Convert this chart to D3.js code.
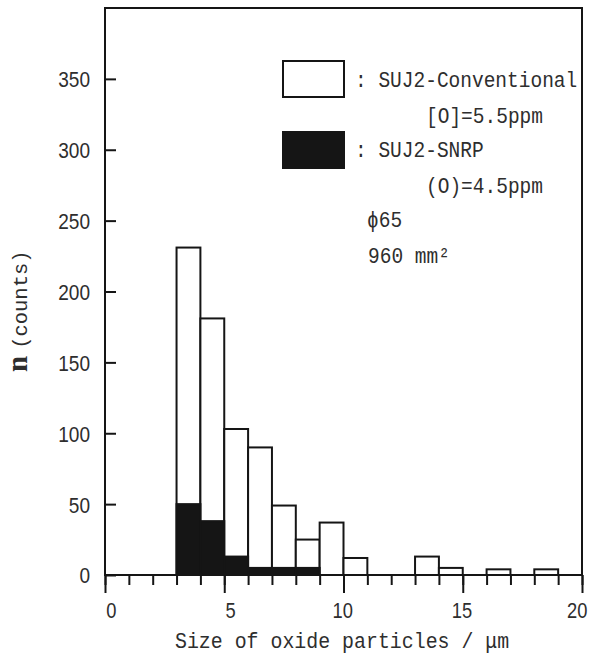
<!DOCTYPE html>
<html>
<head>
<meta charset="utf-8">
<script src="https://cdn.jsdelivr.net/npm/d3@7"></script>
<style>
  body { margin: 0; background: #fff; }
  svg { display: block; }
</style>
</head>
<body>
<script>
// ---- Data ----
const binStarts = [3, 4, 5, 6, 7, 8, 9, 10, 13, 14, 16, 18];
const conventional = [231, 181, 103, 90, 49, 25, 37, 12, 13, 5, 4, 4];
const snrp = [50, 38, 13, 5, 5, 5, 0, 0, 0, 0, 0, 0];
const binWidth = 1;
const xMajorTicks = [0, 5, 10, 15, 20];
const xMinorTicks = d3.range(0, 21, 1);
const yTicks = [0, 50, 100, 150, 200, 250, 300, 350];
const legendLines = [
  { text: ": SUJ2-Conventional", x: 355, y: 87 },
  { text: "[O]=5.5ppm", x: 426, y: 123 },
  { text: ": SUJ2-SNRP", x: 355, y: 157 },
  { text: "(O)=4.5ppm", x: 426, y: 193 },
  { text: "\u03d565", x: 367, y: 227 },
  { text: "960 mm\u00b2", x: 368, y: 263 }
];
const xTitle = "Size of oxide particles / \u03bcm";

// ---- Layout ----
const W = 593, H = 659;
const mLeft = 105, mRight = 582, mTop = 8, mBottom = 575;
const ink = "#151515", textInk = "#2e2e2e";
const monoFont = "'Liberation Mono', 'DejaVu Sans Mono', monospace";
const numFont = "'Liberation Sans', 'Arial', sans-serif";

const svg = d3.select("body").append("svg").attr("width", W).attr("height", H);

const x = d3.scaleLinear().domain([0, 20]).range([mLeft, mRight]);
const y = d3.scaleLinear().domain([0, 400]).range([mBottom, mTop]);

const bins = binStarts.map((s, i) => ({ s, conv: conventional[i], snrp: snrp[i] }));

// conventional bars (open)
svg.append("g").selectAll("rect").data(bins).join("rect")
  .attr("x", d => x(d.s))
  .attr("width", d => x(d.s + binWidth) - x(d.s))
  .attr("y", d => y(d.conv))
  .attr("height", d => y(0) - y(d.conv))
  .attr("fill", "#fff").attr("stroke", ink).attr("stroke-width", 2);

// SNRP bars (filled)
svg.append("g").selectAll("rect").data(bins.filter(d => d.snrp > 0)).join("rect")
  .attr("x", d => x(d.s))
  .attr("width", d => x(d.s + binWidth) - x(d.s))
  .attr("y", d => y(d.snrp))
  .attr("height", d => y(0) - y(d.snrp))
  .attr("fill", ink).attr("stroke", ink).attr("stroke-width", 2);

// frame
svg.append("rect").attr("x", mLeft).attr("y", mTop)
  .attr("width", mRight - mLeft).attr("height", mBottom - mTop)
  .attr("fill", "none").attr("stroke", ink).attr("stroke-width", 2);

// x minor ticks
const gxMinor = svg.append("g").attr("transform", `translate(0,${mBottom})`)
  .call(d3.axisBottom(x).tickValues(xMinorTicks).tickSize(10).tickFormat(""));
gxMinor.select(".domain").remove();
gxMinor.selectAll("line").attr("stroke", ink).attr("stroke-width", 2);

// x major ticks with labels
const gxMajor = svg.append("g").attr("transform", `translate(0,${mBottom})`)
  .call(d3.axisBottom(x).tickValues(xMajorTicks).tickSize(18).tickPadding(0).tickFormat(d3.format("d")));
gxMajor.select(".domain").remove();
gxMajor.selectAll("line").attr("stroke", ink).attr("stroke-width", 2);
gxMajor.selectAll("text")
  .attr("y", 43).attr("dy", 0)
  .attr("text-anchor", "end").attr("dx", (d, i, n) => i === n.length - 1 ? 5 : (d >= 10 ? 9 : 11))
  .attr("textLength", d => String(d).length * 10.2)
  .attr("lengthAdjust", "spacingAndGlyphs")
  .attr("fill", textInk)
  .style("font-family", numFont)
  .style("font-size", "22px");

// y ticks (inward) with labels
const gy = svg.append("g").attr("transform", `translate(${mLeft},0)`)
  .call(d3.axisLeft(y).tickValues(yTicks).tickSizeInner(-11).tickSizeOuter(0).tickPadding(15));
gy.select(".domain").remove();
gy.selectAll("line").attr("stroke", ink).attr("stroke-width", 2);
gy.selectAll("text")
  .attr("x", -15).attr("dy", "0.36em")
  .attr("textLength", d => String(d).length * 10.6)
  .attr("lengthAdjust", "spacingAndGlyphs")
  .attr("fill", textInk)
  .style("font-family", numFont)
  .style("font-size", "22px");

// legend boxes
svg.append("rect").attr("x", 283).attr("y", 61).attr("width", 61).attr("height", 36)
  .attr("fill", "#fff").attr("stroke", ink).attr("stroke-width", 2);
svg.append("rect").attr("x", 283).attr("y", 132).attr("width", 61).attr("height", 36)
  .attr("fill", ink).attr("stroke", ink).attr("stroke-width", 2);

svg.append("g").selectAll("text").data(legendLines).join("text")
  .attr("transform", d => `translate(${d.x},${d.y}) scale(1,1.13)`)
  .attr("fill", textInk)
  .style("font-family", monoFont)
  .style("font-size", "19.5px")
  .text(d => d.text);

// x title
svg.append("text").attr("transform", "translate(175,648) scale(1,1.1)")
  .attr("fill", textInk)
  .style("font-family", monoFont)
  .style("font-size", "19.9px")
  .text(xTitle);

// y title
const yt = svg.append("text").attr("transform", "translate(26.5,372) rotate(-90)")
  .attr("fill", textInk);
yt.append("tspan").text("n")
  .style("font-family", "'Liberation Serif', serif").style("font-weight", "bold").style("font-size", "29px");
yt.append("tspan").attr("dx", 7).text("(counts)")
  .style("font-family", monoFont).style("font-size", "20.5px");
</script>
</body>
</html>
